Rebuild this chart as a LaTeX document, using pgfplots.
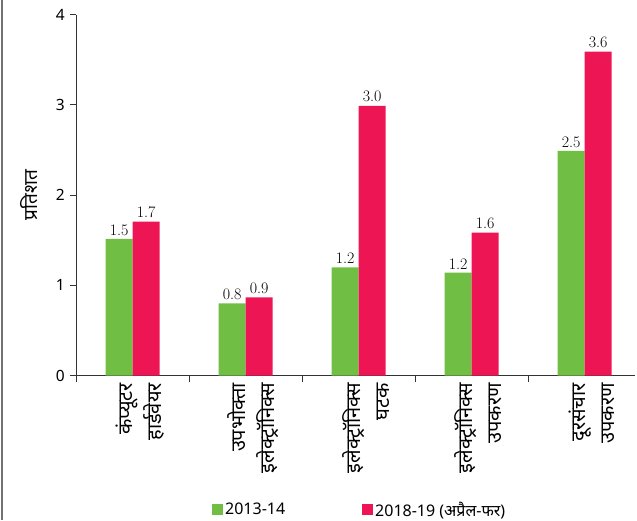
\documentclass[border=0pt]{standalone}
\usepackage{pgfplots}
\pgfplotsset{compat=1.18}
\usepackage{fontspec}
\setmainfont[Script=Devanagari]{Noto Sans}
\newfontfamily\numfont{Latin Modern Roman}
\definecolor{cgreen}{RGB}{112,190,68}
\definecolor{cred}{RGB}{237,21,84}
\begin{document}
\begin{tikzpicture}[x=1pt,y=1pt]
\draw[line width=2pt, color=black!55] (2,0) -- (2,520);
\begin{axis}[
  at={(67.4,160)}, anchor=south west,
  scale only axis, width=559.3pt, height=361pt,
  ybar=0pt, bar width=27pt,
  xmin=-0.5, xmax=4.45, ymin=0, ymax=4,
  axis lines=left, axis line style={-, line width=0.8pt, black!80},
  ytick={0,1,2,3,4},
  tick align=outside, major tick length=6pt,
  tick style={black!80, line width=0.8pt},
  xtick={-0.5,0.5,1.5,2.5,3.5}, xticklabels={},
  extra x ticks={0,1,2,3,4},
  extra x tick labels={{कंप्यूटर\\हार्डवेयर},{उपभोक्ता\\इलेक्ट्रॉनिक्स},{इलेक्ट्रॉनिक्स\\घटक},{इलेक्ट्रॉनिक्स\\उपकरण},{दूरसंचार\\उपकरण}},
  extra x tick style={major tick length=0pt, tick label style={rotate=90, anchor=east, align=right, font=\fontsize{20}{29}\selectfont, xshift=-4pt, yshift=-7pt}},
  /pgf/number format/assume math mode=true,
  yticklabel style={font=\fontsize{15.5}{17}\selectfont, xshift=-2pt},
  ylabel={प्रतिशत},
  every axis y label/.style={at={(axis description cs:0,0.5)}, rotate=90, anchor=center, yshift=47pt, font=\fontsize{19}{21}\selectfont},
  nodes near coords, point meta=explicit symbolic,
  every node near coord/.append style={font=\numfont\fontsize{16}{18}\selectfont, black},
  legend style={at={(rel axis cs:0.507,-0.372)}, anchor=center, draw=none, legend columns=2, font=\fontsize{16}{18}\selectfont,
    /tikz/every even column/.append style={column sep=75pt}},
  legend image code/.code={\fill[#1] (0pt,-5.5pt) rectangle (11pt,5.5pt);},
]
\addplot[fill=cgreen, draw=none] coordinates {(0,1.515)[1.5] (1,0.80)[0.8] (2,1.20)[1.2] (3,1.14)[1.2] (4,2.49)[2.5]};
\addplot[fill=cred, draw=none] coordinates {(0,1.706)[1.7] (1,0.868)[0.9] (2,2.99)[3.0] (3,1.585)[1.6] (4,3.59)[3.6]};
\legend{2013-14, 2018-19 (अप्रैल-फर)}
\end{axis}
\pgfresetboundingbox
\path[use as bounding box] (0,0) rectangle (637,520);
\end{tikzpicture}
\end{document}
